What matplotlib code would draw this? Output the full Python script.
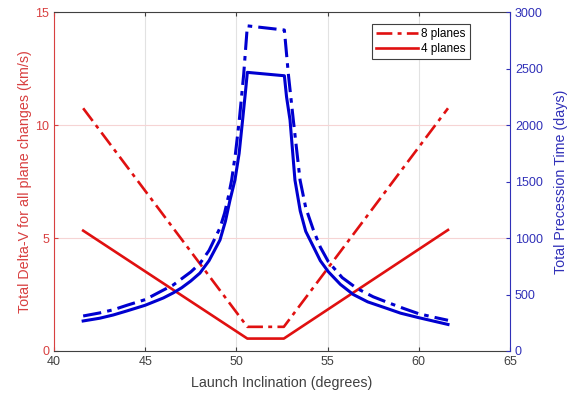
import matplotlib.pyplot as plt

plt.rcParams['font.family'] = ['Liberation Sans', 'DejaVu Sans']

# delta-V (left axis, km/s)
inc_dv = [41.6, 50.6, 52.6, 61.6]
dv_8 = [10.75, 1.07, 1.07, 10.75]
dv_4 = [5.33, 0.55, 0.55, 5.36]

# precession time (right axis, days)
inc_pt4 = [41.6, 42.5, 43.25, 44.0, 45.0, 46.0, 46.54, 47.0, 47.5, 48.0, 48.5,
           49.1, 49.4, 49.65, 49.92, 50.15, 50.34, 50.5, 50.6,
           52.63, 52.75, 52.94, 53.21, 53.5, 53.8, 54.22, 54.6, 55.04, 55.7,
           56.41, 57.2, 58.2, 59.0, 60.0, 60.8, 61.6]
pt_4 = [266, 290, 319, 355, 405, 470, 515, 560, 620, 690, 800,
        983, 1150, 1337, 1514, 1750, 2046, 2300, 2468,
        2438, 2250, 2046, 1514, 1240, 1060, 924, 800, 702, 590,
        500, 435, 380, 335, 295, 265, 235]
inc_pt8 = [41.6, 42.5, 43.25, 44.0, 45.0, 46.0, 46.54, 47.0, 47.5, 48.0, 48.5,
           49.1, 49.35, 49.56, 49.74, 49.95, 50.16, 50.4, 50.6,
           52.63, 52.85, 53.12, 53.49, 53.8, 54.22, 54.6, 55.04, 55.8,
           56.6, 57.5, 58.42, 59.2, 60.0, 60.8, 61.6]
pt_8 = [310, 337, 365, 405, 455, 540, 585, 640, 700, 775, 890,
        1090, 1220, 1367, 1514, 1750, 2046, 2450, 2880,
        2843, 2450, 2046, 1514, 1270, 1072, 920, 791, 650,
        555, 480, 422, 375, 330, 300, 272]

RED = '#e01010'
BLUE = '#0000d0'
RED_AX = '#d84040'
BLUE_AX = '#3030b8'
GRAY = '#404040'
dashdot = (0, (6, 2, 1.5, 2))

fig = plt.figure(figsize=(5.67, 3.93), dpi=100)
ax1 = fig.add_axes([0.0952, 0.1069, 0.8043, 0.8618])
ax2 = ax1.twinx()

l8, = ax1.plot(inc_dv, dv_8, color=RED, lw=1.9, linestyle=dashdot, label='8 planes')
l4, = ax1.plot(inc_dv, dv_4, color=RED, lw=1.9, label='4 planes')

ax2.plot(inc_pt8, pt_8, color=BLUE, lw=2.2, linestyle=dashdot)
ax2.plot(inc_pt4, pt_4, color=BLUE, lw=2.2)

ax1.set_xlim(40, 65)
ax1.set_ylim(0, 15)
ax2.set_ylim(0, 3000)
ax1.set_xticks([40, 45, 50, 55, 60, 65])
ax1.set_yticks([0, 5, 10, 15])
ax2.set_yticks([0, 500, 1000, 1500, 2000, 2500, 3000])

ax1.xaxis.grid(True, color='#e2e2e2', lw=0.8)
ax1.yaxis.grid(True, color='#f6d4d4', lw=0.8)
ax1.set_axisbelow(True)

for sp in ['top', 'bottom']:
    ax1.spines[sp].set_color(GRAY)
ax1.spines['left'].set_color(RED_AX)
ax1.spines['right'].set_visible(False)
for sp in ['top', 'bottom', 'left']:
    ax2.spines[sp].set_visible(False)
ax2.spines['right'].set_color(BLUE_AX)

ax1.tick_params(axis='x', direction='in', top=True, colors=GRAY, labelsize=9, length=3)
ax1.tick_params(axis='y', direction='in', colors=RED_AX, labelsize=9, length=3)
ax2.tick_params(axis='y', direction='in', colors=BLUE_AX, labelsize=9, length=3)

ax1.set_xlabel('Launch Inclination (degrees)', fontsize=10.3, color=GRAY, labelpad=6)
ax1.set_ylabel('Total Delta-V for all plane changes (km/s)', fontsize=10.3, color=RED_AX, labelpad=2)
ax2.set_ylabel('Total Precession Time (days)', fontsize=10.3, color=BLUE_AX, labelpad=8)

leg = ax2.legend([l8, l4], ['8 planes', '4 planes'], loc='upper right',
                 bbox_to_anchor=(0.912, 0.965), borderaxespad=0, fontsize=8.5,
                 frameon=True, fancybox=False, framealpha=1, edgecolor=GRAY,
                 handlelength=3.5, handletextpad=0.3, borderpad=0.35, labelspacing=0.2)
leg.get_frame().set_linewidth(0.8)

fig.savefig('out.png', dpi=100)
